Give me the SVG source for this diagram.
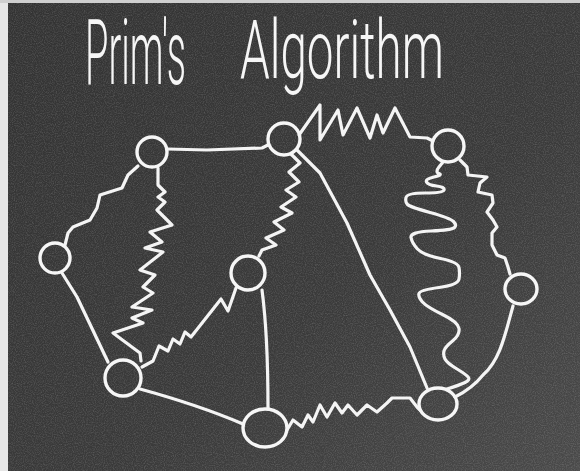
<svg xmlns="http://www.w3.org/2000/svg" width="580" height="471" viewBox="0 0 580 471">
<defs>
<linearGradient id="bg" x1="0" y1="0" x2="1" y2="1">
<stop offset="0" stop-color="#333333"/>
<stop offset="0.6" stop-color="#3a3a3a"/>
<stop offset="1" stop-color="#4a4a4a"/>
</linearGradient>
<filter id="noise" x="0" y="0" width="100%" height="100%">
<feTurbulence type="fractalNoise" baseFrequency="0.9" numOctaves="2" seed="3" result="t"/>
<feColorMatrix type="matrix" values="0 0 0 0 1  0 0 0 0 1  0 0 0 0 1  0 0 0 0.9 -0.35"/>
</filter>
<style>
.ln{fill:none;stroke:#f4f4f4;stroke-width:3.2;stroke-linejoin:round;stroke-linecap:round}
.nd{fill:none;stroke:#f6f6f6;stroke-width:3.4}
.tt{font-family:Roboto,"Liberation Sans",sans-serif;font-weight:300;font-size:56px;fill:#f6f6f6}
</style>
</defs>
<rect x="0" y="0" width="580" height="471" fill="url(#bg)"/>
<rect x="0" y="0" width="580" height="471" filter="url(#noise)" opacity="0.35"/>
<rect x="0" y="0" width="8" height="471" fill="#e6e6e6"/>
<rect x="0" y="0" width="580" height="3" fill="#cfcfcf"/>
<g id="title">
<text class="tt" transform="translate(85,84) scale(0.68,1.62)" x="0" y="0">Prim's</text>
<text class="tt" transform="translate(240,78) scale(0.85,1.45)" x="0" y="0">Algorithm</text>
</g>
<g id="connectors">
<path class="ln" d="M167,149 L207,150 L262,148 L268,145"/>
<path class="ln" d="M138,166 L128,175 L122,188 L100,195 L97,208 L90,220 L73,227 L68,233 L65,245"/>
<path class="ln" d="M158,168 L158,185 L165,192 L158,197 L165,202 L157,210 L172,225 L150,232 L162,242 L145,248 L163,252 L140,270 L155,275 L143,287 L153,293 L132,307 L152,310 L132,318 L143,323 L113,333 L140,353 L141,361"/>
<path class="ln" d="M62,273 L77,297 L108,362"/>
<path class="ln" d="M299,135 L320,105 L320,140 L338,110 L343,135 L357,108 L370,138 L377,115 L383,133 L395,108 L410,137 L427,138 L433,141"/>
<path class="ln" d="M291,154 L300,163 L289,172 L299,182 L286,190 L296,197 L281,207 L292,213 L274,222 L284,230 L266,238 L276,245 L262,250 L259,256"/>
<path class="ln" d="M297,150 L320,173 L347,223 L370,275 L390,310 L410,347 L427,388"/>
<path class="ln" d="M443,162 L439,167 Q435,172 439,173.5 Q443,175 434,177 Q425,179 426.5,182 Q428,185 436.5,186 Q445,187 444,190 Q443,193 425,193 Q407,193 406,197.5 Q405,202 407.5,204.5 Q410,207 430,212.5 Q450,218 453.5,221.5 Q457,225 454.5,227.5 Q452,230 431,231 Q410,232 411,237.5 Q412,243 417.5,249 Q423,255 440.5,258.5 Q458,262 459,267.5 Q460,273 459,279 Q458,285 439,287.5 Q420,290 419,293.5 Q418,297 422.5,302 Q427,307 442.5,314.5 Q458,322 459,328.5 Q460,335 452.5,341 Q445,347 444,351 Q443,355 445,359 Q447,363 457,369 Q467,375 468.5,377.5 Q470,380 465,382.5 Q460,385 447,389"/>
<path class="ln" d="M460,160 L467,167 L468,175 L487,177 L480,183 L478,192 L492,195 L493,203 L487,212 L493,220 L497,227 L492,233 L492,245 L497,255 L505,258 L508,267 L510,274"/>
<path class="ln" d="M513,306 C505,335 500,360 483,375 C475,385 465,392 455,397"/>
<path class="ln" d="M236,288 L228,311 L221,299 L191,337 L185,332 L180,344 L173,339 L168,351 L159,346 L153,361 L142,367"/>
<path class="ln" d="M262,290 C266,320 268,360 268,409"/>
<path class="ln" d="M140,389 C180,400 215,412 243,424"/>
<path class="ln" d="M287,430 L293,420 L302,427 L308,415 L313,422 L320,405 L327,417 L335,403 L342,413 L348,405 L357,415 L367,405 L377,412 L387,403 L392,398 L410,398 L417,407 L420,410"/>
</g>
<g id="n1"><circle class="nd" cx="152" cy="152" r="15"/></g>
<g id="n2"><circle class="nd" cx="284" cy="139" r="16"/></g>
<g id="n3"><circle class="nd" cx="448" cy="146" r="16"/></g>
<g id="n4"><circle class="nd" cx="55" cy="258" r="15"/></g>
<g id="n5"><circle class="nd" cx="248" cy="273" r="17"/></g>
<g id="n6"><ellipse class="nd" cx="521" cy="289" rx="16" ry="15"/></g>
<g id="n7"><circle class="nd" cx="123" cy="378" r="18"/></g>
<g id="n8"><ellipse class="nd" cx="265" cy="428" rx="22" ry="19"/></g>
<g id="n9"><ellipse class="nd" cx="438" cy="404" rx="19" ry="16"/></g>
</svg>
